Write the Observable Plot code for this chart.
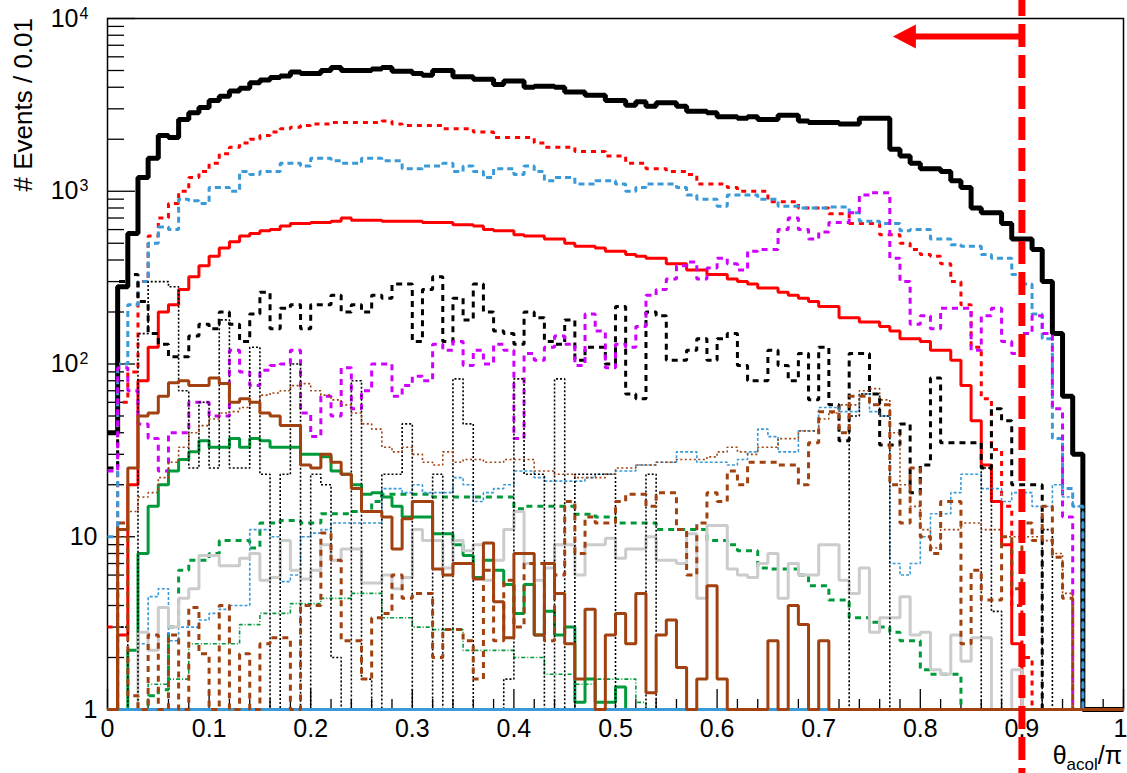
<!DOCTYPE html>
<html>
<head>
<meta charset="utf-8">
<script src="https://cdn.jsdelivr.net/npm/d3@7"></script>
<script src="https://cdn.jsdelivr.net/npm/@observablehq/plot@0.6"></script>
<style>
  html, body { margin: 0; padding: 0; background: #fff; overflow: hidden; }
  svg { display: block; }
</style>
</head>
<body>
<div id="chart"></div>
<script>
// ---------------- data (events per 0.01 bin of theta_acol/pi, 100 bins from 0 to 1) ----------------
const binWidth = 0.01;

const blackTotal = [40,280,570,1200,1550,2100,2050,2600,2850,3050,
3350,3550,3800,3950,4250,4400,4550,4650,4900,4800,
4800,5000,5200,5000,5000,5000,5100,5200,4950,4950,
4800,4700,5000,5000,4600,4600,4450,4450,4150,4350,
4350,4000,4050,4050,4000,3750,3750,3600,3600,3350,
3350,3150,3300,3100,3250,3250,3100,2900,2900,2850,
2700,2700,2650,2700,2600,2600,2750,2750,2550,2500,
2500,2500,2450,2450,2650,2650,2650,1750,1600,1450,
1350,1350,1300,1150,1050,800,750,750,650,530,
530,460,300,150,65,30,0,0,0,0];

const redDotted = [3,60,90,300,550,700,850,1000,1200,1300,
1450,1650,1800,1900,2000,2100,2200,2300,2350,2400,
2450,2450,2500,2500,2500,2500,2500,2550,2450,2400,
2400,2400,2400,2300,2300,2300,2200,2200,2050,2050,
2050,2050,1900,1800,1800,1800,1700,1700,1700,1600,
1600,1450,1450,1350,1350,1300,1300,1250,1100,1100,
1100,1050,1000,1000,1000,870,870,870,800,800,
800,740,740,650,650,650,560,560,500,460,
430,420,380,300,220,125,63,32,15,4,
2,0,0,0,0,0,0,0,0,0];

const blueDashDot = [10,100,220,300,500,620,600,900,880,850,
1050,1050,1000,1300,1250,1300,1300,1450,1450,1400,
1550,1550,1500,1450,1450,1550,1550,1500,1500,1350,
1350,1400,1400,1450,1300,1400,1300,1200,1350,1350,
1250,1400,1300,1150,1200,1200,1100,1100,1150,1150,
1100,1000,1050,1100,1100,1100,1050,950,900,900,
820,950,950,950,900,900,820,820,800,800,
800,810,810,750,670,670,650,650,590,600,
600,530,530,490,480,480,430,410,410,330,
290,195,140,37,19,15,0,0,0,0];

const redSolid = [0,2.7,20,80,125,200,220,270,320,370,
420,470,510,550,570,590,600,630,650,650,
660,660,670,700,680,680,680,670,670,670,
670,660,660,660,640,640,630,600,590,590,
560,550,550,530,530,500,480,480,470,450,
450,430,420,410,410,380,380,350,350,330,
330,310,300,290,275,275,260,250,240,230,
215,215,185,185,175,175,165,155,140,140,
135,120,120,105,75,47,26,16,9,2.4,
0,0,0,0,0,0,0,0,0,0];

const blackDashed = [25,300,330,230,150,130,110,110,145,170,
160,200,170,135,195,260,160,210,220,160,
220,220,250,200,220,200,250,240,290,290,
135,270,320,135,240,180,290,200,155,150,
130,200,185,135,130,180,105,125,125,100,
215,67,63,200,190,105,105,120,140,105,
140,150,98,80,80,120,98,80,115,62,
125,58,36,115,115,67,34,34,45,18,
26,83,35,35,35,35,25,55,47,20,
20,20,0,0,0,0,0,0,0,0];

const magentaDashed = [24,95,70,45,37,24,40,40,60,60,
50,50,120,90,75,92,98,100,120,52,
38,65,50,95,55,70,100,100,65,75,
85,80,130,120,135,98,120,100,130,120,
37,115,105,125,145,130,98,195,155,95,
130,125,165,250,270,310,370,390,310,360,
410,380,350,450,460,460,600,700,600,530,
580,660,660,750,950,980,980,410,300,170,
190,160,210,210,210,120,190,210,135,115,
150,190,150,55,13,0,0,0,0,0];

const blackDotted = [0,3,0,150,300,300,280,70,25,60,
25,180,25,25,125,23,0,23,100,0,
23,20,2,0,80,1.5,0,23,23,45,
1,0,23,0,82,45,0,0,0,1.5,
82,23,23,0,82,0,23,23,23,23,
0,0,1,23,0,0,0,0,0,0,
0,0,0,0,0,0,0,0,0,0,
0,0,0,50,67,67,50,0,0,0,
0,0,0,0,0,0,25,3.7,0,0,
0,0,11,0,0,0,0,0,0,0];

const brownSolid = [0,11,25,50,52,65,78,80,75,75,
83,77,60,63,60,52,50,44,44,26,
25,30,27,23,19,14,14,13,8.5,12.7,
16,16,6.5,6,7,7,5.7,9.2,4.2,2.6,
8,8,2.7,7,4.7,2.4,1.5,3.8,0,2.7,
3.6,2.4,4.7,1.25,2.7,3.3,1.75,0,1.5,5.2,
1.5,0,0,0,0,2.5,0,4,3.1,0,
2.5,0,0,0,0,0,0,0,0,0,
0,0,0,0,0,0,0,0,0,0,
0,0,0,0,0,0,0,0,0,0];

const brownDotted = [0,10,14,17,18,22,27,33,40,44,
48,52,53,56,60,66,68,70,75,77,
70,66,62,58,52,45,42,33,31,33,
30,27,26,31,27,28,28,27,27,28,
28,28,24,24,23,23,22,22,22,23,
25,25,26,26,27,27,28,28,28,29,
31,33,31,30,33,33,37,37,41,41,
48,52,58,58,70,72,62,40,20,15,
11,8.6,11,11,12,12,11,11,10,10,
10,10,9.5,8,4.7,0,0,0,0,0];

const greenSolid = [0,0,2.2,8,15,20,24,28,31,36,
33,33,37,33,37,36,33,33,33,30,
30,29,24,23,20,17.6,18,17,15,13,
13,13,10.4,10.4,9,7.8,5.8,7.3,6.4,5.3,
3.6,5.3,2.7,3.7,2.7,3,1.1,1.5,1.1,1.1,
1.35,0,0,0,0,0,0,0,0,0,
0,0,0,0,0,0,0,0,0,0,
0,0,0,0,0,0,0,0,0,0,
0,0,0,0,0,0,0,0,0,0,
0,0,0,0,0,0,0,0,0,0];

const greenDashed = [0,0,0,0,1.2,1.3,3,6.4,7.3,7.3,
8,9.5,9.5,9.5,8.6,12,12,12.4,12.4,12,
12,13.6,13.6,13.6,14,14,16,17.6,17.6,17.6,
17.6,17.6,17,17,17,17,17,17,17,17,
14.5,15,15,15,15,15,13.5,13.5,13,13,
12,12,12,12,11,11,11,11,11,9.5,
9.5,9,8.3,8.3,6.6,6.5,6.5,6.5,6,5.2,
5.2,4.3,4.3,3.4,3.4,3.2,3,2.8,2.5,2.5,
1.7,1.6,1.6,1.6,0,0,0,0,0,0,
0,0,0,0,0,0,0,0,0,0];

const greenDotted = [0,0,0,0,1.4,1.4,1.5,1.5,2.4,2.4,
2.4,2.4,2.4,3.1,3.1,3.6,3.6,3.6,4.1,4.1,
4.1,4.4,4.4,4.4,4.7,4.7,4.7,3.4,3.4,3.4,
3,3,2.9,2.9,2.9,2.2,2.2,2.2,2.2,2.2,
2,2,2,1.6,1.6,1.6,1.4,1.4,1.5,1.5,
1.5,1.5,1.1,0,0,0,0,0,0,0,
0,0,0,0,0,0,0,0,0,0,
0,0,0,0,0,0,0,0,0,0,
0,0,0,0,0,0,0,0,0,0,
0,0,0,0,0,0,0,0,0,0];

const lightBlueDotted = [0,0,0,2.4,4.5,5,2.5,3,3,3.3,
3.6,3.8,4,4,11,11,10,5.5,6,10,
10.5,11,12,12,12,12,12,19,19,18,
20,18,18,18,22,20,16,18,19,20,
24,24,22,21,21,21,21,22,23,23,
24,24,26,26,27,27,31,31,27,27,
27,26,28,31,42,38,31,31,41,41,
56,56,53,53,67,53,50,7,6,7,
10,13.6,13.6,18,23,23,19,19,16,18,
18,15,15,20,17,15,0,0,0,0];

const brownDashed = [0,12,1.2,0,2.7,0,2.7,1,3.9,2.1,
1,4,1,2.1,1,2.4,2.6,2.6,1,4,
4,10.5,7.3,2.5,2.5,1.5,3.4,3.6,6,4.4,
4.7,4.7,2,2.9,2.9,2.5,1.5,6.4,2.5,5.6,
3,7,7,2.5,6,16,8,13,12,12,
16,17.6,17.6,15,18,18,11,6,12,18,
16,24,20,27,27,27,26,26,20,35,
53,53,40,65,65,58,58,20,12,25,
10,8,16,16,2.4,6.4,4.3,4.3,10,5,
12,9.5,15,7.6,4.4,0,0,0,0,0];

const graySolid = [0,0,0,2.8,2.2,3.9,3,4.4,5,7.8,
7.8,6.8,6.8,7.5,8,5.6,5.8,9.5,6.4,5.7,
6.4,9,7.3,8.5,8.5,5.4,5.4,6,5,5.8,
11,9.5,9.5,6.6,9.5,8.3,9,5.6,7.3,11,
14,7,5.6,6.6,9,9,6,9,9,9.8,
7.5,8.5,8.5,10,7.3,7.3,7,10.4,4.4,11.6,
11.6,6.5,6,5.8,7,8,4.4,7,6,6,
9,9,5.6,4.7,6.6,2.8,3.4,3.4,4.5,2.7,
2.8,1.7,1.6,2.7,1.9,2.6,2.6,0,0,1.7,
0,0,0,0,0,0,0,0,0,0];

const blueSolid = [0,0,0,0,0,0,0,0,0,0,
0,0,0,0,0,0,0,0,0,0,
0,0,0,0,0,0,0,0,0,0,
0,0,0,0,0,0,0,0,0,0,
0,0,0,0,0,0,0,0,0,0,
0,0,0,0,0,0,0,0,0,0,
0,0,0,0,0,0,0,0,0,0,
0,0,0,0,0,0,0,0,0,0,
0,0,0,0,0,0,0,0,0,0,
0,0,0,0,0,0,0,0,0,0];

// axis ticks and labels
const xMajorTicks = [0,0.1,0.2,0.3,0.4,0.5,0.6,0.7,0.8,0.9,1];
const xTickLabels = ["0","0.1","0.2","0.3","0.4","0.5","0.6","0.7","0.8","0.9","1"];
const xMinorTicks = [0.02,0.04,0.06,0.08,0.12,0.14,0.16,0.18,0.22,0.24,0.26,0.28,
  0.32,0.34,0.36,0.38,0.42,0.44,0.46,0.48,0.52,0.54,0.56,0.58,0.62,0.64,0.66,0.68,
  0.72,0.74,0.76,0.78,0.82,0.84,0.86,0.88,0.92,0.94,0.96,0.98];
const yMajorTicks = [1,10,100,1000,10000];
const yLabelBase = ["1","10","10","10","10"];
const yLabelExp = ["","","2","3","4"];
const yMinorTicks = [2,3,4,5,6,7,8,9,20,30,40,50,60,70,80,90,
  200,300,400,500,600,700,800,900,2000,3000,4000,5000,6000,7000,8000,9000];

// selection cut and arrow
const cutValue = [0.9];
const arrowSpec = [{from: 0.9, shaftTo: 0.79, to: 0.773, level: 7870}];

// ---------------- drawing ----------------
const W = 1127, H = 773, mL = 107, mR = 4, mT = 18, mB = 64;
const plotW = W - mL - mR, plotH = H - mT - mB;
const yMin = 1;

function stepPoints(values) {
  const pts = values.map((v, i) => ({x: i * binWidth, y: Math.max(v, yMin)}));
  pts.push({x: values.length * binWidth, y: Math.max(values[values.length - 1], yMin)});
  return pts;
}

const azure = "#3a9ad8", brown = "#a0410f", green = "#009a3a", magenta = "#d000ff";
const seriesStyles = [
  {values: blackTotal, stroke: "#000000", width: 5, dash: null},
  {values: redDotted, stroke: "#ff0000", width: 3, dash: "5 5"},
  {values: blueDashDot, stroke: azure, width: 3, dash: "6 4"},
  {values: redSolid, stroke: "#ff0000", width: 3, dash: null},
  {values: blackDashed, stroke: "#000000", width: 3, dash: "6 5"},
  {values: magentaDashed, stroke: magenta, width: 3, dash: "6 5"},
  {values: greenSolid, stroke: green, width: 3, dash: null},
  {values: greenDashed, stroke: green, width: 3, dash: "6 5"},
  {values: greenDotted, stroke: green, width: 1.6, dash: "4 2 1 2"},
  {values: lightBlueDotted, stroke: azure, width: 1.6, dash: "3 2"},
  {values: graySolid, stroke: "#cccccc", width: 3, dash: null},
  {values: blackDotted, stroke: "#000000", width: 1.6, dash: "2 2"},
  {values: blueSolid, stroke: azure, width: 3, dash: null},
  {values: brownSolid, stroke: brown, width: 3, dash: null},
  {values: brownDotted, stroke: brown, width: 1.6, dash: "2 2.5"},
  {values: brownDashed, stroke: brown, width: 3, dash: "6 5"}
];

const histMarks = seriesStyles.map(s => Plot.line(stepPoints(s.values), {
  x: "x", y: "y", curve: "step-after",
  stroke: s.stroke, strokeWidth: s.width,
  strokeDasharray: s.dash ?? undefined,
  strokeLinecap: "butt", strokeLinejoin: "miter"
}));

const yLabels = yMajorTicks.map((v, i) => ({value: v, base: yLabelBase[i], exp: yLabelExp[i]}));
const xLabels = xMajorTicks.map((v, i) => ({value: v, label: xTickLabels[i]}));

const arrowHead = {
  draw(context) {
    context.moveTo(0, 0);
    context.lineTo(23, -12);
    context.lineTo(23, 12);
    context.closePath();
  }
};

const chart = Plot.plot({
  width: W, height: H,
  marginLeft: mL, marginRight: mR, marginTop: mT, marginBottom: mB,
  style: {fontFamily: "'Liberation Sans', Arial, Helvetica, sans-serif", fontSize: "25px", background: "#ffffff", overflow: "visible", color: "#000"},
  x: {domain: [0, 1], axis: null},
  y: {type: "log", domain: [1, 10000], axis: null},
  marks: [
    Plot.frame({stroke: "#000", strokeWidth: 1.5}),
    Plot.ruleX(xMinorTicks, {stroke: "#000", strokeWidth: 1.3, insetTop: plotH - 10}),
    Plot.ruleX(xMajorTicks, {stroke: "#000", strokeWidth: 1.3, insetTop: plotH - 20}),
    Plot.ruleY(yMinorTicks, {stroke: "#000", strokeWidth: 1.3, insetRight: plotW - 17}),
    Plot.ruleY(yMajorTicks, {stroke: "#000", strokeWidth: 1.3, insetRight: plotW - 28}),
    ...histMarks,
    Plot.text(xLabels.filter(d => d.value < 1), {x: "value", frameAnchor: "bottom", lineAnchor: "top", dy: 10,
      text: "label", fontSize: 25, fill: "#000"}),
    Plot.text(xLabels.filter(d => d.value === 1), {x: "value", frameAnchor: "bottom", lineAnchor: "top", dy: 10,
      dx: -3, text: "label", fontSize: 25, fill: "#000"}),
    Plot.text(yLabels.filter(d => !d.exp), {y: "value", frameAnchor: "left", text: "base",
      textAnchor: "end", dx: -10, fontSize: 25, fill: "#000"}),
    Plot.text(yLabels.filter(d => d.exp), {y: "value", frameAnchor: "left", text: "base",
      textAnchor: "end", dx: -29, fontSize: 25, fill: "#000"}),
    Plot.text(yLabels.filter(d => d.exp), {y: "value", frameAnchor: "left", text: "exp",
      textAnchor: "start", dx: -28, dy: -5, fontSize: 16, fill: "#000"}),
    Plot.ruleX(cutValue, {stroke: "#ff0000", strokeWidth: 7, strokeDasharray: "23 8",
      strokeDashoffset: 7, insetTop: -mT, insetBottom: -mB}),
    Plot.link(arrowSpec, {x1: "from", x2: "shaftTo", y1: "level", y2: "level",
      stroke: "#ff0000", strokeWidth: 6}),
    Plot.dot(arrowSpec, {x: "to", y: "level", symbol: arrowHead, r: 10, fill: "#ff0000", stroke: "none"})
  ]
});

const svg = d3.select(chart);
svg.append("text")
  .attr("transform", "translate(32,18) rotate(-90)")
  .attr("text-anchor", "end")
  .attr("fill", "#000")
  .style("font-size", "26px")
  .text("# Events / 0.01");

const xt = svg.append("text")
  .attr("x", 1122).attr("y", 764)
  .attr("text-anchor", "end")
  .attr("fill", "#000")
  .style("font-size", "25px");
xt.append("tspan").text("θ");
xt.append("tspan").attr("dy", 6).style("font-size", "17px").text("acol");
xt.append("tspan").attr("dy", -6).text("/π");

document.getElementById("chart").appendChild(chart);
</script>
</body>
</html>
